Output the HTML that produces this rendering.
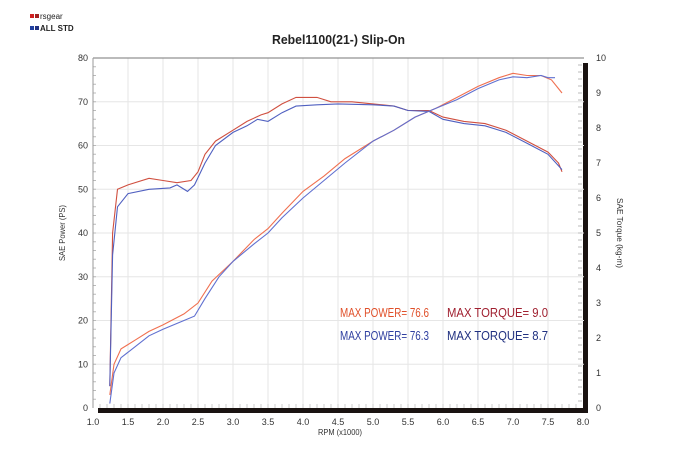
<!DOCTYPE html>
<html><head><meta charset="utf-8"><style>
body{margin:0;background:#fff;width:680px;height:450px;overflow:hidden}
svg{display:block}
text{font-family:"Liberation Sans Narrow","Liberation Sans",sans-serif}
</style></head><body>
<svg id="s" width="680" height="450" xmlns="http://www.w3.org/2000/svg">
<rect x="30" y="14" width="4" height="4" fill="#d02020"/><rect x="35" y="14" width="4" height="4" fill="#a02020"/>
<text x="40" y="19" font-size="8" fill="#222">rsgear</text>
<rect x="30" y="26" width="4" height="4" fill="#2040a0"/><rect x="35" y="26" width="4" height="4" fill="#203080"/>
<text x="40" y="31" font-size="8" fill="#222" font-weight="bold">ALL STD</text>
<text x="272" y="44" font-size="13" fill="#222" font-weight="bold" textLength="133" lengthAdjust="spacingAndGlyphs">Rebel1100(21-) Slip-On</text>
<rect x="98" y="408" width="490" height="5" fill="#1a1311"/>
<rect x="583" y="63" width="5" height="350" fill="#1a1311"/>
<g id="grid"></g>
<line x1="93" y1="58" x2="584" y2="58" stroke="#777" stroke-width="1"/>
<line x1="93" y1="58" x2="93" y2="408" stroke="#999" stroke-width="1"/>
<g id="curves" fill="none" stroke-width="1.1"></g>
<text x="65" y="233" font-size="8" fill="#333" text-anchor="middle" transform="rotate(-90 65 233)" textLength="56" lengthAdjust="spacingAndGlyphs">SAE Power (PS)</text>
<text x="617" y="233" font-size="8" fill="#333" text-anchor="middle" transform="rotate(90 617 233)" textLength="70" lengthAdjust="spacingAndGlyphs">SAE Torque (kg-m)</text>
<text x="340" y="435" font-size="8" fill="#333" text-anchor="middle" textLength="44" lengthAdjust="spacingAndGlyphs">RPM (x1000)</text>
<text x="340" y="317" font-size="13" fill="#e0502a" textLength="89" lengthAdjust="spacingAndGlyphs">MAX POWER= 76.6</text>
<text x="447" y="317" font-size="13" fill="#a02030" textLength="101" lengthAdjust="spacingAndGlyphs">MAX TORQUE= 9.0</text>
<text x="340" y="340" font-size="13" fill="#3040a0" textLength="89" lengthAdjust="spacingAndGlyphs">MAX POWER= 76.3</text>
<text x="447" y="340" font-size="13" fill="#203080" textLength="101" lengthAdjust="spacingAndGlyphs">MAX TORQUE= 8.7</text>
</svg>
<script>
var NS="http://www.w3.org/2000/svg",g=document.getElementById("grid"),c=document.getElementById("curves");
function X(r){return 93+(r-1)*70}function Y(p){return 408-p*4.375}
function el(t,a,p){var e=document.createElementNS(NS,t);for(var k in a)e.setAttribute(k,a[k]);if(a.txt){e.textContent=a.txt;e.removeAttribute("txt")}(p||g).appendChild(e);return e}
for(var i=1;i<14;i++){var x=X(1+i*0.5);el("line",{x1:x,y1:58,x2:x,y2:408,stroke:"#e6e6e6"})}
for(var i=1;i<8;i++){el("line",{x1:93,y1:Y(i*10),x2:584,y2:Y(i*10),stroke:"#e6e6e6"})}
for(var i=0;i<=8;i++){el("text",{x:88,y:Y(i*10)+3,"font-size":9,fill:"#333","text-anchor":"end",txt:""+i*10})}
for(var i=0;i<=10;i++){el("text",{x:596,y:408-i*35+3,"font-size":9,fill:"#333",txt:""+i})}
for(var i=0;i<=14;i++){el("text",{x:X(1+i*0.5),y:425,"font-size":9,fill:"#333","text-anchor":"middle",txt:(1+i*0.5).toFixed(1)})}
for(var i=1;i<40;i++){el("line",{x1:93,y1:Y(i*2),x2:96,y2:Y(i*2),stroke:"#bbb"});}
for(var i=1;i<50;i++){el("line",{x1:578,y1:408-i*7,x2:582,y2:408-i*7,stroke:"#bbb"});}
for(var i=1;i<70;i++){el("line",{x1:X(1+i*0.1),y1:404,x2:X(1+i*0.1),y2:408,stroke:"#ccc"});}
function P(d,col){var s="";for(var i=0;i<d.length;i+=2)s+=(i?"L":"M")+X(d[i]).toFixed(1)+","+Y(d[i+1]).toFixed(1);el("path",{d:s,stroke:col},c)}
P([1.24,5,1.28,40,1.35,50,1.5,51,1.8,52.5,2.0,52,2.2,51.5,2.4,52,2.5,54,2.6,58,2.75,61,3.0,63.5,3.2,65.5,3.4,67,3.5,67.5,3.7,69.5,3.9,71,4.2,71,4.4,70,4.7,70,5.0,69.5,5.3,69,5.5,68,5.8,68,6.0,66.5,6.3,65.5,6.6,65,6.9,63.5,7.2,61,7.5,58.5,7.65,56,7.7,54],"#d05040");
P([1.24,5,1.28,35,1.35,46,1.5,49,1.8,50,2.1,50.3,2.2,51,2.35,49.5,2.45,51,2.6,56,2.75,60,3.0,63,3.2,64.5,3.35,66,3.5,65.5,3.7,67.5,3.9,69,4.2,69.3,4.5,69.5,5.0,69.3,5.3,69,5.5,68,5.8,67.8,6.0,66,6.3,65,6.6,64.5,6.9,63,7.2,60.5,7.5,58,7.7,54.5],"#5060c0");
P([1.24,3,1.3,10,1.4,13.5,1.6,15.5,1.8,17.5,2.0,19,2.3,21.5,2.5,24,2.7,29,3.0,33.5,3.3,38.5,3.5,41,3.7,44.5,4.0,49.5,4.3,53,4.6,57,5.0,61,5.3,63.5,5.6,66.5,5.9,68.5,6.2,71,6.5,73.5,6.8,75.5,7.0,76.5,7.2,76,7.4,76,7.55,75,7.65,73,7.7,72],"#f07050");
P([1.24,1,1.3,8,1.4,11.5,1.6,14,1.8,16.5,2.0,18,2.3,20,2.45,21,2.6,25,2.8,30,3.0,33.5,3.3,37.5,3.5,40,3.7,43.5,4.0,48,4.3,52,4.6,56,5.0,61,5.3,63.5,5.6,66.5,5.9,68.5,6.2,70.5,6.5,73,6.8,75,7.0,75.7,7.2,75.5,7.4,76,7.5,75.5,7.6,75.5],"#6070d0");
</script>
</body></html>
